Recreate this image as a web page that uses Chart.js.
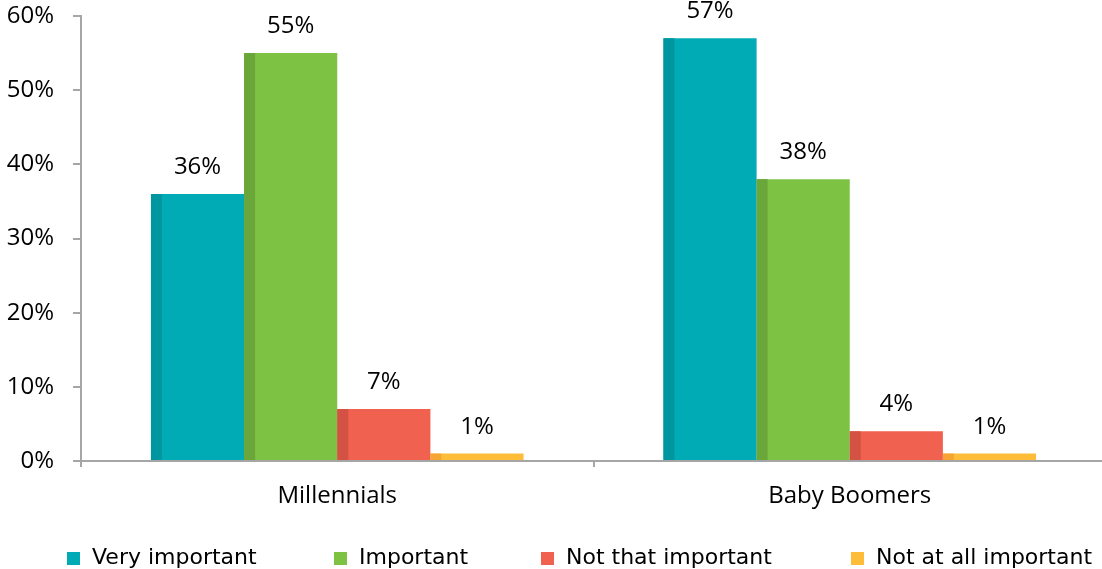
<!DOCTYPE html>
<html>
<head>
<meta charset="utf-8">
<title>Importance by generation</title>
<script src="https://cdn.jsdelivr.net/npm/chart.js@4/dist/chart.umd.min.js"></script>
<style>
  html, body { margin: 0; padding: 0; background: #fff; overflow: hidden; }
  #wrap { position: relative; width: 1106px; height: 569px; }
  #legend { position: absolute; top: 544px; left: 0; width: 1102px; height: 26px;
            font: 22px "DejaVu Sans", sans-serif; color: #000; }
  .item { position: absolute; top: 0; line-height: 26px; white-space: nowrap; }
  .swatch { display: inline-block; width: 13px; height: 13px; margin-right: 12px; vertical-align: -1px; }
</style>
</head>
<body>
<div id="wrap">
  <canvas id="chart" width="1106" height="569"></canvas>
  <div id="legend"></div>
</div>
<script>
"use strict";

// survey answers, in percent
const categories = ['Millennials', 'Baby Boomers'];
const seriesNames = ['Very important', 'Important', 'Not that important', 'Not at all important'];
const veryImportant = [36, 57];
const important = [55, 38];
const notThatImportant = [7, 4];
const notAtAllImportant = [1, 1];
const yTicks = [0, 10, 20, 30, 40, 50, 60];

const fillColors = ['#00abb6', '#7dc242', '#f06150', '#fdbd39'];
const sideColors = ['#0096a0', '#6aa63a', '#d45244', '#f6a535'];
const legendLeft = [67, 334, 541, 851];
const FONT = '"Open Sans", sans-serif';

const seriesValues = [veryImportant, important, notThatImportant, notAtAllImportant];

const datasets = seriesNames.map(function (name, i) {
  return {
    label: name,
    data: seriesValues[i],
    backgroundColor: fillColors[i],
    borderWidth: 0,
    categoryPercentage: 0.727,
    barPercentage: 1.0
  };
});

// darker strip on the left edge of every bar, plus the value above it
const barDecor = {
  id: 'barDecor',
  afterDatasetsDraw(chart) {
    const ctx = chart.ctx;
    ctx.save();
    chart.data.datasets.forEach(function (ds, i) {
      const meta = chart.getDatasetMeta(i);
      meta.data.forEach(function (bar, j) {
        const left = bar.x - bar.width / 2;
        ctx.fillStyle = sideColors[i];
        ctx.fillRect(left, bar.y, 11, bar.base - bar.y);
        ctx.fillStyle = '#000';
        ctx.font = '24px ' + FONT;
        ctx.textAlign = 'center';
        ctx.textBaseline = 'alphabetic';
        ctx.fillText(ds.data[j] + '%', bar.x, bar.y - 20);
      });
    });
    ctx.restore();
  }
};

const ctx = document.getElementById('chart').getContext('2d');

const myChart = new Chart(ctx, {
  type: 'bar',
  data: { labels: categories, datasets: datasets },
  options: {
    responsive: false,
    animation: false,
    layout: { padding: { top: 16, right: 0, bottom: 0, left: 0 } },
    plugins: {
      legend: { display: false },
      tooltip: { enabled: false }
    },
    scales: {
      x: {
        grid: { drawOnChartArea: false, drawTicks: true, tickLength: 6, color: '#a6a6a6', lineWidth: 2, offset: true },
        border: { color: '#a6a6a6', width: 2 },
        ticks: { color: '#000', font: { family: FONT, size: 24 }, padding: 15 },
        afterFit: function (scale) {
          scale.height = 108;
          scale.paddingLeft = 0;
          scale.paddingRight = 0;
        }
      },
      y: {
        min: 0,
        max: 60,
        afterBuildTicks: function (scale) {
          scale.ticks = yTicks.map(function (v) { return { value: v }; });
        },
        grid: { drawOnChartArea: false, drawTicks: true, tickLength: 8, color: '#a6a6a6', lineWidth: 2 },
        border: { color: '#a6a6a6', width: 2 },
        ticks: {
          color: '#000',
          font: { family: FONT, size: 24 },
          padding: 19,
          callback: function (value) { return value + '%'; }
        },
        afterFit: function (scale) {
          scale.width = 81;
          scale.paddingTop = 0;
          scale.paddingBottom = 0;
        }
      }
    }
  },
  plugins: [barDecor]
});

// legend row under the chart
const legend = document.getElementById('legend');
myChart.data.datasets.forEach(function (ds, i) {
  const item = document.createElement('span');
  item.className = 'item';
  item.style.left = legendLeft[i] + 'px';
  const sw = document.createElement('span');
  sw.className = 'swatch';
  sw.style.background = ds.backgroundColor;
  item.appendChild(sw);
  item.appendChild(document.createTextNode(ds.label));
  legend.appendChild(item);
});
</script>
</body>
</html>
